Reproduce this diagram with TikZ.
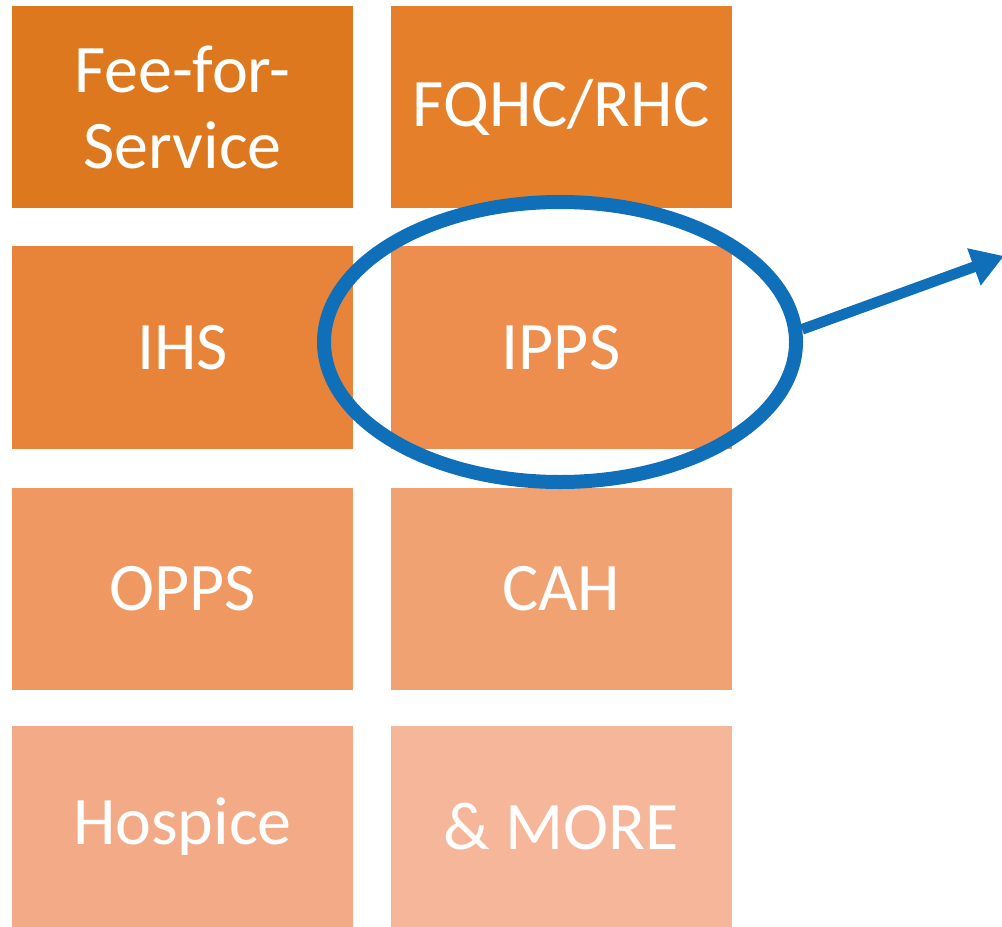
\documentclass[tikz,border=0pt]{standalone}
\usepackage{fontspec}
\setmainfont{Carlito}
\usepackage{tikz}
\usetikzlibrary{shapes.geometric,arrows.meta}

\definecolor{tone1}{HTML}{DE781E}
\definecolor{tone2}{HTML}{E57F2A}
\definecolor{tone3}{HTML}{E8843A}
\definecolor{tone4}{HTML}{ED8E4F}
\definecolor{tone5}{HTML}{F09862}
\definecolor{tone6}{HTML}{F1A272}
\definecolor{tone7}{HTML}{F3AA86}
\definecolor{tone8}{HTML}{F6B699}
\definecolor{ringblue}{HTML}{0F6FB8}

\tikzset{
  payer/.style={rectangle, minimum width=255.75pt, minimum height=151.5pt, inner sep=0pt,
    text=white, align=center, font=\fontsize{51}{57}\selectfont},
}

\begin{document}
\begin{tikzpicture}[x=0.75pt,y=-0.75pt]
\useasboundingbox (0,0) rectangle (1002,927);

\foreach \name/\px/\py/\tone/\txt in {fee/182.5/107/tone1/{Fee-for-\\Service}, fqhc/561/107/tone2/{FQHC/RHC},
  ihs/182.5/347.5/tone3/IHS, ipps/561/347.5/tone4/IPPS,
  opps/182.5/588.5/tone5/OPPS, cah/561/588.5/tone6/CAH,
  hospice/182.5/827/tone7/Hospice, more/561/827/tone8/{\& MORE}}
  \node[payer, fill=\tone] (\name) at (\px,\py) {\txt};

\node[draw=ringblue, line width=10.5pt, ellipse, minimum width=354pt, minimum height=210pt, inner sep=0pt] (ring) at (560,342) {};
\coordinate (out) at (1004,256);

\draw[ringblue, line width=8pt, -{Triangle[length=24pt,width=28pt]}] (ring.3) -- (out);

\end{tikzpicture}
\end{document}
